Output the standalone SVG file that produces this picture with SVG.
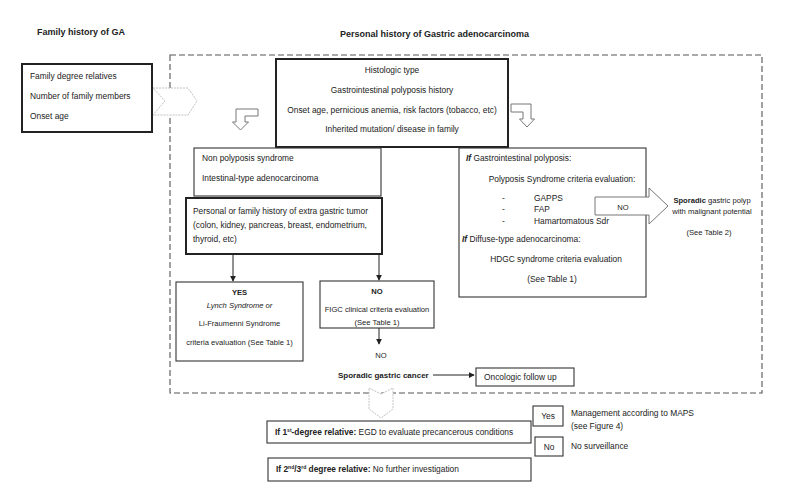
<svg xmlns="http://www.w3.org/2000/svg" width="785" height="502" viewBox="0 0 785 502">
<style>
text{font-family:"Liberation Sans",Arial,sans-serif;fill:#222;font-size:8.4px}
.s{font-size:7.6px}
.b{font-weight:bold}
.i{font-style:italic}
.m{text-anchor:middle}
.thin{fill:#fff;stroke:#333;stroke-width:1.1}
.thick{fill:#fff;stroke:#222;stroke-width:2}
.shape{fill:#fff;stroke:#777;stroke-width:1}
.light{fill:#fff;stroke:#bbb;stroke-width:0.9;stroke-dasharray:2 1}
.conn{stroke:#222;stroke-width:1;fill:none}
</style>
<defs>
<marker id="ah" viewBox="0 0 8 8" refX="7" refY="4" markerWidth="6" markerHeight="6" orient="auto" markerUnits="userSpaceOnUse">
<path d="M0,0 L8,4 L0,8 Z" fill="#222"/>
</marker>
</defs>
<rect width="785" height="502" fill="#fff"/>

<text x="37" y="35" class="b" style="font-size:9px">Family history of GA</text>
<text x="340" y="37" class="b" style="font-size:9px">Personal history of Gastric adenocarcinoma</text>

<g id="region">
<rect x="170" y="55" width="592" height="338" fill="none" stroke="#555" stroke-width="1.1" stroke-dasharray="6 3"/>
</g>

<g id="family">
<rect x="22" y="64" width="130" height="68" class="thick"/>
<text x="30" y="79">Family degree relatives</text>
<text x="30" y="99">Number of family members</text>
<text x="30" y="119">Onset age</text>
</g>

<g id="chevron-right">
<path d="M153,88 L188,88 L197,101 L188,115 L153,115 L165,101 Z" class="light"/>
</g>

<g id="histologic">
<rect x="276" y="59" width="232" height="88" class="thick"/>
<text x="392" y="73" class="m">Histologic type</text>
<text x="392" y="93" class="m">Gastrointestinal polyposis history</text>
<text x="392" y="113" class="m">Onset age, pernicious anemia, risk factors (tobacco, etc)</text>
<text x="392" y="132" class="m">Inherited mutation/ disease in family</text>
</g>

<g id="bent-left">
<path d="M258,109 L236,109 L236,122 L232.5,122 L240.5,130 L248.5,122 L245,122 L245,116 L258,116 Z" class="shape"/>
</g>
<g id="bent-right">
<path d="M511,104 L531,104 L531,119 L534.5,119 L527,127 L519.5,119 L523,119 L523,112 L511,112 Z" class="shape"/>
</g>

<g id="nonpolyposis">
<rect x="194" y="148" width="187" height="48" class="thin"/>
<text x="202" y="161">Non polyposis syndrome</text>
<text x="202" y="181">Intestinal-type adenocarcinoma</text>
</g>

<g id="extragastric">
<rect x="186" y="198" width="196" height="56" class="thick"/>
<text x="193" y="214">Personal or family history of extra gastric tumor</text>
<text x="193" y="228">(colon, kidney, pancreas, breast, endometrium,</text>
<text x="193" y="242">thyroid, etc)</text>
</g>

<g id="polyposis">
<rect x="459" y="148" width="187" height="149" class="thin"/>
<text x="466" y="161"><tspan class="b i">If</tspan> Gastrointestinal polyposis:</text>
<text x="562" y="182" class="m">Polyposis Syndrome criteria evaluation:</text>
<text x="502" y="201">-</text><text x="534" y="201">GAPPS</text>
<text x="502" y="212">-</text><text x="534" y="212">FAP</text>
<text x="502" y="224">-</text><text x="534" y="224">Hamartomatous Sdr</text>
<text x="462" y="242"><tspan class="b i">If</tspan> Diffuse-type adenocarcinoma:</text>
<text x="556" y="262" class="m">HDGC syndrome criteria evaluation</text>
<text x="552" y="282" class="m">(See Table 1)</text>
</g>

<g id="no-arrow">
<path d="M595,197 L649,197 L649,188 L668,206 L649,224 L649,215 L595,215 Z" class="shape"/>
<text x="623" y="209.5" class="s m">NO</text>
</g>

<g id="sporadic-polyp">
<text x="712" y="203" class="s m"><tspan class="b">Sporadic</tspan> gastric polyp</text>
<text x="712" y="214" class="s m">with malignant potential</text>
<text x="709" y="235" class="s m">(See Table 2)</text>
</g>

<g id="yes">
<rect x="176" y="282" width="127" height="79" class="thin"/>
<text x="239.5" y="295" class="s m b">YES</text>
<text x="239.5" y="308" class="s m i">Lynch Syndrome or</text>
<text x="239.5" y="326" class="s m">Li-Fraumenni Syndrome</text>
<text x="239.5" y="345" class="s m">criteria evaluation (See Table 1)</text>
</g>

<g id="no">
<rect x="320" y="281" width="114" height="47" class="thin"/>
<text x="377" y="294" class="s m b">NO</text>
<text x="377" y="312" class="s m">FIGC clinical criteria evaluation</text>
<text x="377" y="325" class="s m">(See Table 1)</text>
</g>

<g id="no-label">
<text x="381" y="358" class="s m">NO</text>
</g>

<g id="sporadic-cancer">
<text x="338" y="378" class="b" style="font-size:8px">Sporadic gastric cancer</text>
</g>

<g id="oncologic">
<rect x="476" y="368" width="98" height="18" class="thin"/>
<text x="484" y="380">Oncologic follow up</text>
</g>

<g id="chevron-down">
<path d="M369,388 L381,394 L393,388 L393,409 L381,418 L369,409 Z" class="light"/>
</g>

<g id="first-degree">
<rect x="267" y="421" width="264" height="22" class="thin"/>
<text x="275" y="435"><tspan class="b">If 1</tspan><tspan class="b" style="font-size:5px" dy="-3">st</tspan><tspan class="b" dy="3">-degree relative:</tspan> EGD to evaluate precancerous conditions</text>
</g>

<g id="second-degree">
<rect x="268" y="458" width="263" height="23" class="thin"/>
<text x="276" y="472"><tspan class="b">If 2</tspan><tspan class="b" style="font-size:5px" dy="-3">nd</tspan><tspan class="b" dy="3">/3</tspan><tspan class="b" style="font-size:5px" dy="-3">rd</tspan><tspan class="b" dy="3"> degree relative:</tspan> No further investigation</text>
</g>

<g id="yes-box">
<rect x="533" y="406" width="30" height="20" class="thin"/>
<text x="548" y="419" class="m">Yes</text>
</g>
<g id="no-box">
<rect x="535" y="437" width="28" height="19" class="thin"/>
<text x="549" y="449.5" class="m">No</text>
</g>
<g id="maps">
<text x="571" y="416">Management according to MAPS</text>
<text x="571" y="429">(see Figure 4)</text>
</g>
<g id="nosurv">
<text x="571" y="449">No surveillance</text>
</g>

<g id="connectors">
<line x1="233" y1="254" x2="233" y2="281" class="conn" marker-end="url(#ah)"/>
<line x1="379" y1="254" x2="379" y2="280" class="conn" marker-end="url(#ah)"/>
<line x1="379" y1="328" x2="379" y2="344" class="conn" marker-end="url(#ah)"/>
<line x1="433" y1="375" x2="474" y2="375" class="conn" marker-end="url(#ah)"/>
</g>
</svg>
